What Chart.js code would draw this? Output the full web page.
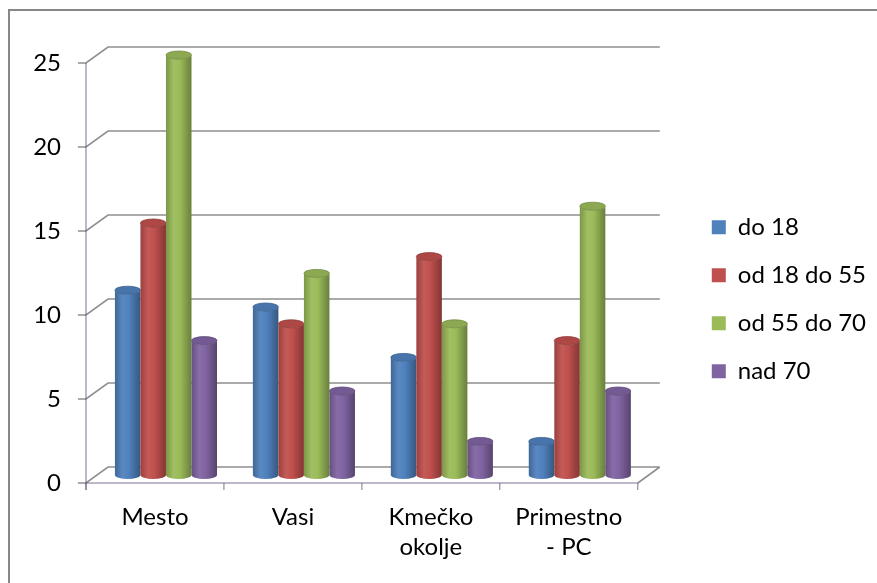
<!DOCTYPE html>
<html>
<head>
<meta charset="utf-8">
<script src="https://cdn.jsdelivr.net/npm/chart.js@4.4.0/dist/chart.umd.min.js"></script>
<style>
  html, body { margin: 0; padding: 0; background: #fff; }
  canvas { display: block; }
</style>
</head>
<body>
<canvas id="chart" width="877" height="583"></canvas>
<script>
const categories = ['Mesto', 'Vasi', ['Kmečko', 'okolje'], ['Primestno', '- PC']];
const seriesNames = ['do 18', 'od 18 do 55', 'od 55 do 70', 'nad 70'];
const do18 = [11, 10, 7, 2];
const od18do55 = [15, 9, 13, 8];
const od55do70 = [25, 12, 9, 16];
const nad70 = [8, 5, 2, 5];
const yTicks = [0, 5, 10, 15, 20, 25];
const colors = ['#4F81BD', '#C0504D', '#9BBB59', '#8064A2'];

// depth of the fake 3D box (back wall vs front axis)
const DX = 22, DY = -16;
const FONT = 'Lato, "Open Sans", sans-serif';

function shade(hex, amt) {
    let r = parseInt(hex.slice(1, 3), 16), g = parseInt(hex.slice(3, 5), 16), b = parseInt(hex.slice(5, 7), 16);
    const f = c => amt < 0 ? Math.round(c * (1 + amt)) : Math.round(c + (255 - c) * amt);
    return `rgb(${f(r)},${f(g)},${f(b)})`;
}

function cylinder(ctx, x, top, base, w, col) {
    const rx = w / 2, ry = 4;
    const l = x - rx, r = x + rx;
    const g = ctx.createLinearGradient(l, 0, r, 0);
    g.addColorStop(0, shade(col, -0.2));
    g.addColorStop(0.3, shade(col, 0.06));
    g.addColorStop(0.55, col);
    g.addColorStop(1, shade(col, -0.32));
    ctx.beginPath();
    ctx.moveTo(l, top);
    ctx.lineTo(l, base);
    ctx.ellipse(x, base, rx, ry, 0, Math.PI, 0, true);
    ctx.lineTo(r, top);
    ctx.ellipse(x, top, rx, ry, 0, 0, Math.PI, false);
    ctx.closePath();
    ctx.fillStyle = g;
    ctx.fill();
    // top cap
    ctx.beginPath();
    ctx.ellipse(x, top, rx, ry, 0, 0, Math.PI * 2);
    ctx.fillStyle = shade(col, -0.1);
    ctx.fill();
    ctx.lineWidth = 0.8;
    ctx.strokeStyle = shade(col, -0.25);
    ctx.stroke();
}

const box3d = {
    id: 'box3d',
    beforeDraw(chart) {
        const ctx = chart.ctx;
        ctx.save();
        ctx.strokeStyle = '#878787';
        ctx.lineWidth = 2;
        ctx.strokeRect(9, 10, 1000, 1000);
        ctx.restore();
    },
    beforeDatasetsDraw(chart) {
        const ctx = chart.ctx;
        const { left, right, bottom } = chart.chartArea;
        const y = chart.scales.y;
        ctx.save();
        ctx.strokeStyle = '#8e8e8e';
        ctx.lineWidth = 1.6;
        ctx.beginPath();
        yTicks.forEach(v => {
            const py = y.getPixelForValue(v);
            ctx.moveTo(left - 8, py);
            ctx.lineTo(left, py);
            ctx.lineTo(left + DX, py + DY);
            ctx.lineTo(right + DX, py + DY);
        });
        // floor right edge
        ctx.moveTo(right, bottom);
        ctx.lineTo(right + DX, bottom + DY);
        ctx.stroke();

        // bars, drawn half way into the depth
        chart.data.datasets.forEach((ds, i) => {
            const meta = chart.getDatasetMeta(i);
            if (meta.hidden) return;
            meta.data.forEach(el => {
                cylinder(ctx, el.x + DX / 2, el.y + DY / 2, el.base + DY / 2, el.width, colors[i]);
            });
        });

        // front axes
        ctx.beginPath();
        ctx.moveTo(left, y.getPixelForValue(25));
        ctx.lineTo(left, bottom + 7);
        ctx.moveTo(left, bottom);
        ctx.lineTo(right, bottom);
        for (let i = 0; i <= categories.length; i++) {
            const px = left + (right - left) * i / categories.length;
            ctx.moveTo(px, bottom);
            ctx.lineTo(px, bottom + 7);
        }
        ctx.stroke();
        ctx.restore();
        return false;
    }
};

const values = [do18, od18do55, od55do70, nad70];

new Chart(document.getElementById('chart'), {
    type: 'bar',
    data: {
        labels: categories,
        datasets: seriesNames.map((name, i) => ({
            label: name,
            data: values[i],
            backgroundColor: colors[i],
            borderWidth: 0,
            categoryPercentage: 0.74,
            barPercentage: 1
        }))
    },
    options: {
        responsive: false,
        animation: false,
        devicePixelRatio: 1,
        layout: { padding: { left: 0, top: 63, right: 1, bottom: 0 } },
        plugins: {
            tooltip: { enabled: false },
            legend: {
                position: 'right',
                fullSize: false,
                align: 'center',
                maxWidth: 300,
                title: { display: true, text: '', padding: { top: 38, bottom: 0 } },
                labels: {
                    boxWidth: 14,
                    boxHeight: 14,
                    padding: 24,
                    color: '#000',
                    font: { family: FONT, size: 24 }
                }
            }
        },
        scales: {
            x: {
                grid: { display: false, drawTicks: false },
                border: { display: false },
                ticks: { color: '#000', padding: 19, font: { family: FONT, size: 24, lineHeight: 1.25 } },
                afterFit: s => { s.height = 100; }
            },
            y: {
                min: 0,
                max: 25,
                grid: { display: false, drawTicks: false },
                border: { display: false },
                ticks: { stepSize: 5, color: '#000', padding: 25, font: { family: FONT, size: 24 } },
                afterFit: s => { s.width = 86; }
            },
            gap: {
                type: 'linear',
                position: 'right',
                display: true,
                grid: { display: false, drawTicks: false },
                border: { display: false },
                ticks: { display: false },
                afterFit: s => { s.width = 50; }
            }
        }
    },
    plugins: [box3d]
});
</script>
</body>
</html>
